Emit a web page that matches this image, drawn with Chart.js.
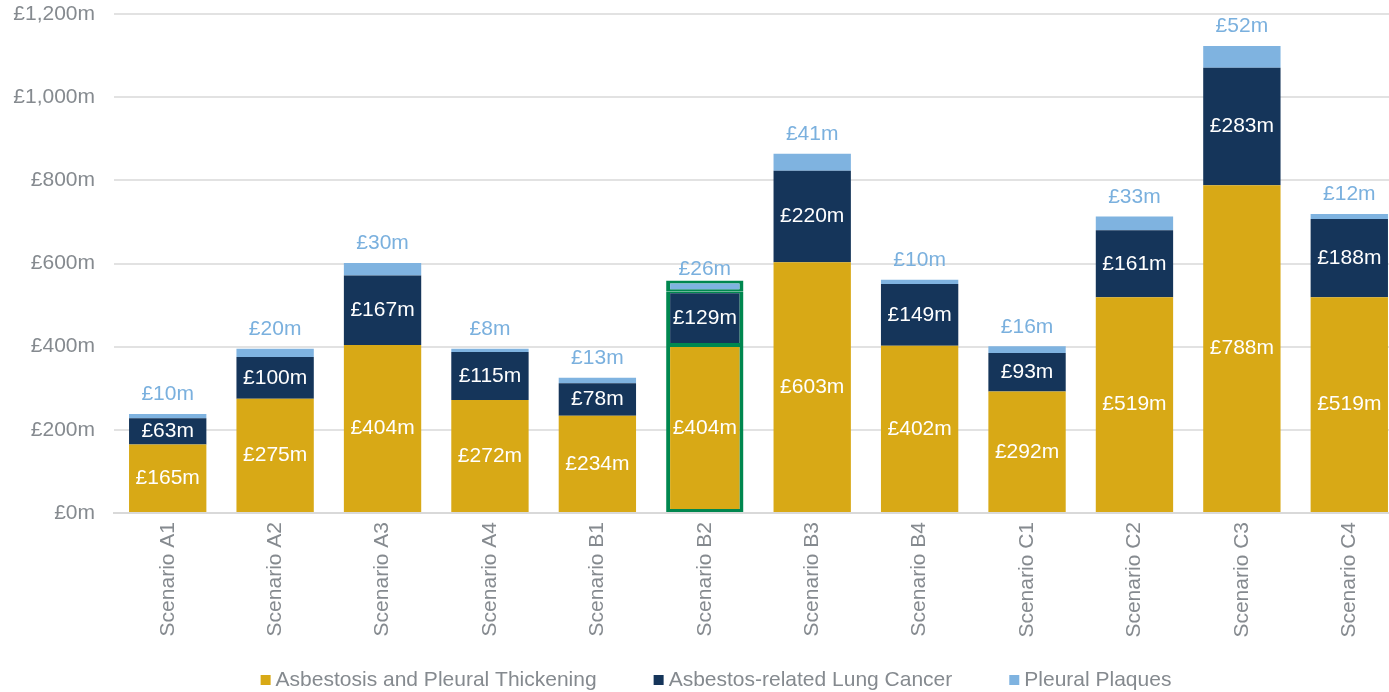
<!DOCTYPE html>
<html>
<head>
<meta charset="utf-8">
<script src="https://cdn.jsdelivr.net/npm/chart.js@4.4.1/dist/chart.umd.min.js"></script>
<style>
  html, body { margin: 0; padding: 0; overflow: hidden; background: #ffffff; width: 1389px; height: 692px; }
  #wrap { position: absolute; left: 0; top: 0; width: 1403px; height: 692px; }
</style>
</head>
<body>
<div id="wrap"><canvas id="chart"></canvas></div>
<script>
// ---- Data ----
const categories = ['Scenario A1','Scenario A2','Scenario A3','Scenario A4','Scenario B1','Scenario B2','Scenario B3','Scenario B4','Scenario C1','Scenario C2','Scenario C3','Scenario C4'];
const asbestosisPleuralThickening = [165, 275, 404, 272, 234, 404, 603, 402, 292, 519, 788, 519];
const lungCancer = [63, 100, 167, 115, 78, 129, 220, 149, 93, 161, 283, 188];
const pleuralPlaques = [10, 20, 30, 8, 13, 26, 41, 10, 16, 33, 52, 12];
const seriesNames = ['Asbestosis and Pleural Thickening', 'Asbestos-related Lung Cancer', 'Pleural Plaques'];
const yTicks = [0, 200, 400, 600, 800, 1000, 1200];
const highlightCategory = 'Scenario B2';

// ---- Styles ----
const FONT = '"Liberation Sans", Arial, Helvetica, sans-serif';
const GREY = '#858a8f';
const COLORS = ['#d8a916', '#15355a', '#7fb3e0'];
const LABEL_BLUE = '#7ab0de';
const HIGHLIGHT = '#00874f';
const hiIndex = categories.indexOf(highlightCategory);
const nSeries = 3;

const fmt = v => '£' + v.toLocaleString('en-GB') + 'm';

const border = {
  borderColor: ctx => (ctx.dataIndex === hiIndex ? HIGHLIGHT : 'rgba(0,0,0,0)'),
  borderWidth: ctx => {
    if (ctx.dataIndex !== hiIndex) return 0;
    const d = ctx.datasetIndex;
    return { left: 4, right: 4, bottom: d === 0 ? 3 : 2, top: d === nSeries - 1 ? 3 : 2 };
  },
  borderSkipped: false
};

const labelPlugin = {
  id: 'segLabels',
  afterDatasetsDraw(chart) {
    const ctx = chart.ctx;
    ctx.save();
    ctx.font = '21px ' + FONT;
    ctx.textAlign = 'center';
    ctx.textBaseline = 'middle';
    chart.data.datasets.forEach((ds, di) => {
      const meta = chart.getDatasetMeta(di);
      meta.data.forEach((bar, i) => {
        const v = ds.data[i];
        if (di < nSeries - 1) {
          ctx.fillStyle = '#ffffff';
          ctx.fillText(fmt(v), bar.x, (bar.y + bar.base) / 2);
        } else {
          ctx.fillStyle = LABEL_BLUE;
          ctx.fillText(fmt(v), bar.x, bar.y - (i === hiIndex ? 11 : 19.5));
        }
      });
    });
    ctx.restore();
  }
};

// custom legend (Excel-like spacing)
const legendPlugin = {
  id: 'xlLegend',
  afterDraw(chart) {
    const ctx = chart.ctx;
    ctx.save();
    ctx.font = '21px ' + FONT;
    ctx.textBaseline = 'middle';
    ctx.textAlign = 'left';
    const box = 10, boxGap = 5, itemGap = 57, centerX = 716, cy = 680;
    const items = chart.data.datasets.map(ds => ({ text: ds.label, color: ds.backgroundColor, w: ctx.measureText(ds.label).width }));
    const total = items.reduce((s, it) => s + box + boxGap + it.w, 0) + itemGap * (items.length - 1);
    let x = centerX - total / 2;
    items.forEach(it => {
      ctx.fillStyle = it.color;
      ctx.fillRect(x, cy - box / 2, box, box);
      ctx.fillStyle = GREY;
      ctx.fillText(it.text, x + box + boxGap, cy);
      x += box + boxGap + it.w + itemGap;
    });
    ctx.restore();
  }
};

new Chart(document.getElementById('chart'), {
  type: 'bar',
  data: {
    labels: categories,
    datasets: [
      Object.assign({ label: seriesNames[0], data: asbestosisPleuralThickening, backgroundColor: COLORS[0] }, border),
      Object.assign({ label: seriesNames[1], data: lungCancer, backgroundColor: COLORS[1] }, border),
      Object.assign({ label: seriesNames[2], data: pleuralPlaques, backgroundColor: COLORS[2] }, border)
    ]
  },
  options: {
    responsive: true,
    maintainAspectRatio: false,
    animation: false,
    devicePixelRatio: 1,
    layout: { padding: { left: 13, top: 14, right: 0, bottom: 38 } },
    datasets: { bar: { categoryPercentage: 0.72, barPercentage: 1.0 } },
    plugins: {
      tooltip: { enabled: false },
      legend: { display: false }
    },
    scales: {
      x: {
        stacked: true,
        grid: { display: false, drawTicks: false },
        border: { display: true, color: '#d9d9d9', width: 2 },
        ticks: {
          color: GREY,
          font: { family: FONT, size: 21 },
          minRotation: 90,
          maxRotation: 90,
          autoSkip: false,
          padding: 9
        },
        afterFit(scale) { scale.height = 141; }
      },
      y: {
        stacked: true,
        min: yTicks[0],
        max: yTicks[yTicks.length - 1],
        afterBuildTicks(scale) { scale.ticks = yTicks.map(v => ({ value: v })); },
        grid: { color: '#e2e2e2', lineWidth: 2, drawTicks: false },
        border: { display: false },
        ticks: {
          color: GREY,
          font: { family: FONT, size: 21 },
          padding: 19,
          callback: v => fmt(v)
        },
        afterFit(scale) {
          scale.width = 101;
          scale.paddingTop = 12;
          scale.paddingBottom = 12;
        }
      }
    }
  },
  plugins: [labelPlugin, legendPlugin]
});
</script>
</body>
</html>
